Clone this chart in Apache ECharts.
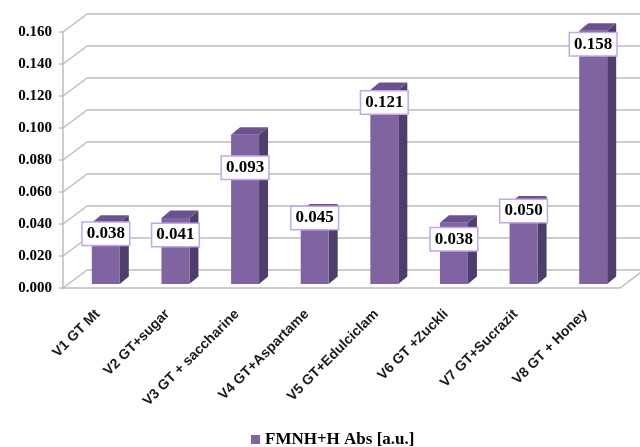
<!DOCTYPE html>
<html>
<head>
<meta charset="utf-8">
<script src="https://cdn.jsdelivr.net/npm/echarts@6/dist/echarts.min.js"></script>
<style>
  html, body { margin: 0; padding: 0; background: #fff; }
  #chart { width: 640px; height: 447px; }
</style>
</head>
<body>
<div id="chart"></div>
<script>
// values
const categories = ['V1 GT Mt', 'V2 GT+sugar', 'V3 GT + saccharine', 'V4 GT+Aspartame',
  'V5 GT+Edulciclam', 'V6 GT +Zuckli', 'V7 GT+Sucrazit', 'V8 GT + Honey'];
const absValues = [0.038, 0.041, 0.093, 0.045, 0.121, 0.038, 0.050, 0.158];
const yTicks = [0, 0.02, 0.04, 0.06, 0.08, 0.10, 0.12, 0.14, 0.16];
const seriesName = 'FMNH+H Abs [a.u.]';

// label boxes were moved by hand in the original, px below the bar top
const labelDrop = [11, 17, 33, 6.5, 12.5, 16.5, 7.5, 13.5];

const FRONT = '#8064A2', SIDE = '#4F3E6C', TOP = '#6A5290';
const GRID_COLOR = '#BDBDBD';
const DX = 24, DY = -18; // depth of the back wall

const chart = echarts.init(document.getElementById('chart'));

function renderWall(params, api) {
  const v = api.value(1);
  const band = api.size([1, 0])[0];
  const p = api.coord([0, v]);
  const left = p[0] - band / 2;
  const right = api.coord([categories.length - 1, v])[0] + band / 2;
  const y = p[1];
  const st = { stroke: GRID_COLOR, lineWidth: 1.5, fill: null };
  const kids = [
    { type: 'line', shape: { x1: left, y1: y, x2: left + DX, y2: y + DY }, style: st },
    { type: 'line', shape: { x1: left + DX, y1: y + DY, x2: right + DX, y2: y + DY }, style: st }
  ];
  if (v === 0) {
    kids.push({ type: 'line', shape: { x1: right, y1: y, x2: right + DX, y2: y + DY }, style: st });
  }
  return { type: 'group', children: kids };
}

function renderBar(params, api) {
  const i = api.value(0);
  const v = api.value(1);
  const band = api.size([1, 0])[0];
  const c = api.coord([i, v]);
  const base = api.coord([i, 0])[1] - 4;
  const top = c[1] - 4.5;
  const fl = c[0] - band * 0.086;
  const fr = c[0] + band * 0.316;
  const sx = 9, sy = -7.5;
  return {
    type: 'group',
    children: [
      { type: 'polygon', shape: { points: [[fr, top], [fr + sx, top + sy], [fr + sx, base + sy], [fr, base]] },
        style: { fill: SIDE } },
      { type: 'polygon', shape: { points: [[fl, top], [fl + sx, top + sy], [fr + sx, top + sy], [fr, top]] },
        style: { fill: TOP } },
      { type: 'rect', shape: { x: fl, y: top, width: fr - fl, height: base - top },
        style: { fill: FRONT } },
      { type: 'text', z2: 10,
        style: {
          text: v.toFixed(3), x: c[0] + 8, y: top + labelDrop[params.dataIndex],
          align: 'center', verticalAlign: 'middle',
          font: 'bold 17px "Liberation Serif", "Times New Roman", serif', fill: '#000',
          backgroundColor: '#fff', borderColor: '#C4A6EA', borderWidth: 1.5, padding: [3, 4, 2, 4]
        } }
    ]
  };
}

chart.setOption({
  animation: false,
  backgroundColor: '#fff',
  grid: { left: 63, right: 20, top: 32, bottom: 159 },
  legend: {
    data: [seriesName], left: 246, top: 426, icon: 'rect', itemWidth: 9, itemHeight: 9,
    textStyle: { fontFamily: '"Liberation Serif", serif', fontWeight: 'bold', fontSize: 17, color: '#000' }
  },
  xAxis: {
    type: 'category', data: categories,
    axisLine: { lineStyle: { color: GRID_COLOR, width: 1.5 } },
    axisTick: { length: 4, lineStyle: { color: GRID_COLOR, width: 1.5 } },
    axisLabel: {
      rotate: 45, interval: 0, margin: 24, color: '#1a1a1a',
      fontFamily: '"Liberation Sans", Arial, sans-serif', fontWeight: 'bold', fontSize: 14
    },
    splitLine: { show: false }
  },
  yAxis: {
    type: 'value', min: 0, max: 0.16, interval: 0.02,
    axisLine: { show: true, lineStyle: { color: GRID_COLOR, width: 1.5 } },
    axisTick: { show: true, length: 4, lineStyle: { color: GRID_COLOR, width: 1.5 } },
    axisLabel: {
      margin: 11, color: '#000', formatter: v => v.toFixed(3),
      fontFamily: '"Liberation Serif", serif', fontWeight: 'bold', fontSize: 15
    },
    splitLine: { show: false }
  },
  series: [
    {
      type: 'custom', z: 1, silent: true,
      renderItem: renderWall,
      data: yTicks.map(t => [0, t])
    },
    {
      type: 'custom', name: seriesName, z: 5,
      itemStyle: { color: FRONT },
      renderItem: renderBar,
      data: absValues.map((v, i) => [i, v])
    }
  ]
});
</script>
</body>
</html>
